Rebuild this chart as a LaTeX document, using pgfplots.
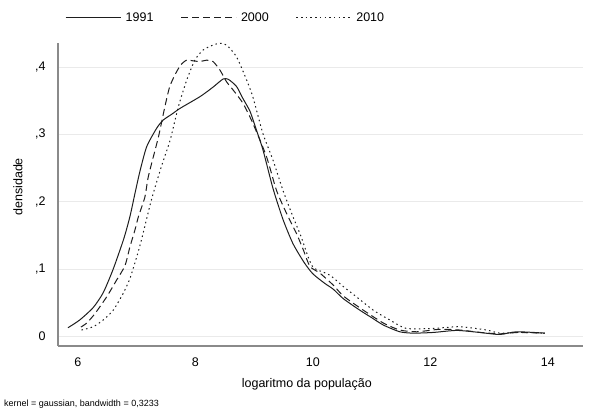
\documentclass[border=0pt]{standalone}
\usepackage{fontspec}
\setmainfont{Liberation Sans}
\usepackage{pgfplots}
\pgfplotsset{compat=1.18}
\definecolor{axgray}{HTML}{8A8A8A}
\definecolor{gridgray}{HTML}{EAEAEA}
\definecolor{curve}{HTML}{1E1E1E}
\begin{document}
\begin{tikzpicture}
\path[use as bounding box] (0pt,0pt) rectangle (590pt,414pt);
\begin{axis}[
  at={(58pt,68pt)}, anchor=south west,
  scale only axis, width=525pt, height=303pt,
  xmin=5.66, xmax=14.6, ymin=-0.0141, ymax=0.4355,
  axis x line*=bottom, axis y line*=left,
  axis line style={axgray, line width=1.1pt},
  xtick={6,8,10,12,14}, xticklabels={6,8,10,12,14},
  ytick={0,0.1,0.2,0.3,0.4}, yticklabels={0,{,1},{,2},{,3},{,4}},
  major tick length=0pt,
  ymajorgrids, grid style={gridgray, line width=0.8pt},
  ticklabel style={font=\fontsize{12.5}{14}\selectfont},
  xticklabel style={yshift=-8pt},
  yticklabel style={xshift=-9pt},
  xlabel={logaritmo da população},
  ylabel={densidade},
  label style={font=\fontsize{12.5}{14}\selectfont},
  x label style={at={(axis description cs:0.474,0)}, anchor=north, yshift=-29pt},
  y label style={at={(axis description cs:0,0.525)}, anchor=south, yshift=32pt},
  legend columns=3,
  legend image code/.code={\draw[#1] (0pt,0pt) -- (55pt,0pt);},
  legend style={at={(axis description cs:0,1)}, anchor=west, xshift=7pt, yshift=25pt,
    draw=none, fill=none, inner sep=0pt,
    font=\fontsize{12.5}{14}\selectfont,
    nodes={inner sep=0pt},
    /tikz/every odd column/.append style={column sep=4.5pt},
    /tikz/every even column/.append style={column sep=27pt}},
  clip=false,
]
\addplot[curve, line width=1pt, smooth, tension=0.4] coordinates {
(5.83,0.013)(6.03,0.0245)(6.26,0.043)(6.43,0.065)(6.60,0.100)(6.78,0.145)
(6.885,0.178)(6.97,0.212)(7.055,0.245)(7.17,0.2816)(7.34,0.309)(7.45,0.321)
(7.60,0.330)(7.74,0.3386)(8.08,0.356)(8.30,0.370)(8.47,0.382)(8.56,0.3816)
(8.70,0.371)(8.81,0.353)(8.93,0.334)(9.04,0.306)(9.15,0.277)(9.32,0.220)
(9.49,0.174)(9.66,0.138)(9.85,0.110)(10.0,0.093)(10.2,0.079)(10.35,0.070)
(10.52,0.056)(10.8,0.039)(11.0,0.028)(11.2,0.017)(11.48,0.007)(11.71,0.005)
(12.05,0.006)(12.45,0.009)(12.84,0.006)(13.18,0.003)(13.47,0.007)(13.95,0.005)
};
\addlegendentry{1991}
\addplot[curve, line width=1pt, smooth, tension=0.4, dash pattern=on 7pt off 4pt] coordinates {
(6.05,0.014)(6.15,0.020)(6.29,0.034)(6.49,0.059)(6.66,0.084)(6.80,0.105)
(6.885,0.133)(6.97,0.158)(7.03,0.178)(7.14,0.207)(7.20,0.238)(7.37,0.296)
(7.48,0.341)(7.56,0.370)(7.65,0.388)(7.75,0.403)(7.85,0.410)(7.96,0.409)
(8.08,0.408)(8.19,0.410)(8.30,0.408)(8.42,0.395)(8.53,0.378)(8.64,0.366)
(8.81,0.346)(8.98,0.316)(9.21,0.267)(9.38,0.217)(9.55,0.183)(9.72,0.153)
(9.84,0.128)(9.95,0.104)(10.12,0.094)(10.35,0.076)(10.52,0.060)(10.86,0.039)
(11.20,0.020)(11.48,0.0096)(11.77,0.007)(12.16,0.0107)(12.50,0.0096)
(12.90,0.0056)(13.20,0.004)(13.50,0.006)(13.95,0.005)
};
\addlegendentry{2000}
\addplot[curve, line width=1pt, smooth, tension=0.4, dash pattern=on 1.5pt off 3.2pt] coordinates {
(6.06,0.0096)(6.26,0.0145)(6.43,0.0245)(6.60,0.039)(6.77,0.064)(6.885,0.086)
(7.00,0.118)(7.08,0.143)(7.25,0.2025)(7.42,0.252)(7.57,0.2915)(7.71,0.341)
(7.85,0.380)(7.99,0.410)(8.13,0.425)(8.30,0.4325)(8.42,0.435)(8.53,0.4325)
(8.70,0.415)(8.87,0.381)(8.98,0.355)(9.15,0.301)(9.32,0.262)(9.49,0.217)
(9.66,0.178)(9.80,0.148)(9.92,0.118)(10.0,0.103)(10.1,0.098)(10.29,0.091)
(10.52,0.074)(10.74,0.059)(11.03,0.039)(11.31,0.0245)(11.59,0.012)
(12.05,0.012)(12.50,0.0145)(12.96,0.0096)(13.18,0.005)(13.50,0.006)(13.95,0.005)
};
\addlegendentry{2010}
\end{axis}
\node[anchor=west, inner sep=0pt, font=\fontsize{9}{10}\selectfont] at (4pt,10pt) {kernel = gaussian, bandwidth = 0,3233};
\end{tikzpicture}
\end{document}
